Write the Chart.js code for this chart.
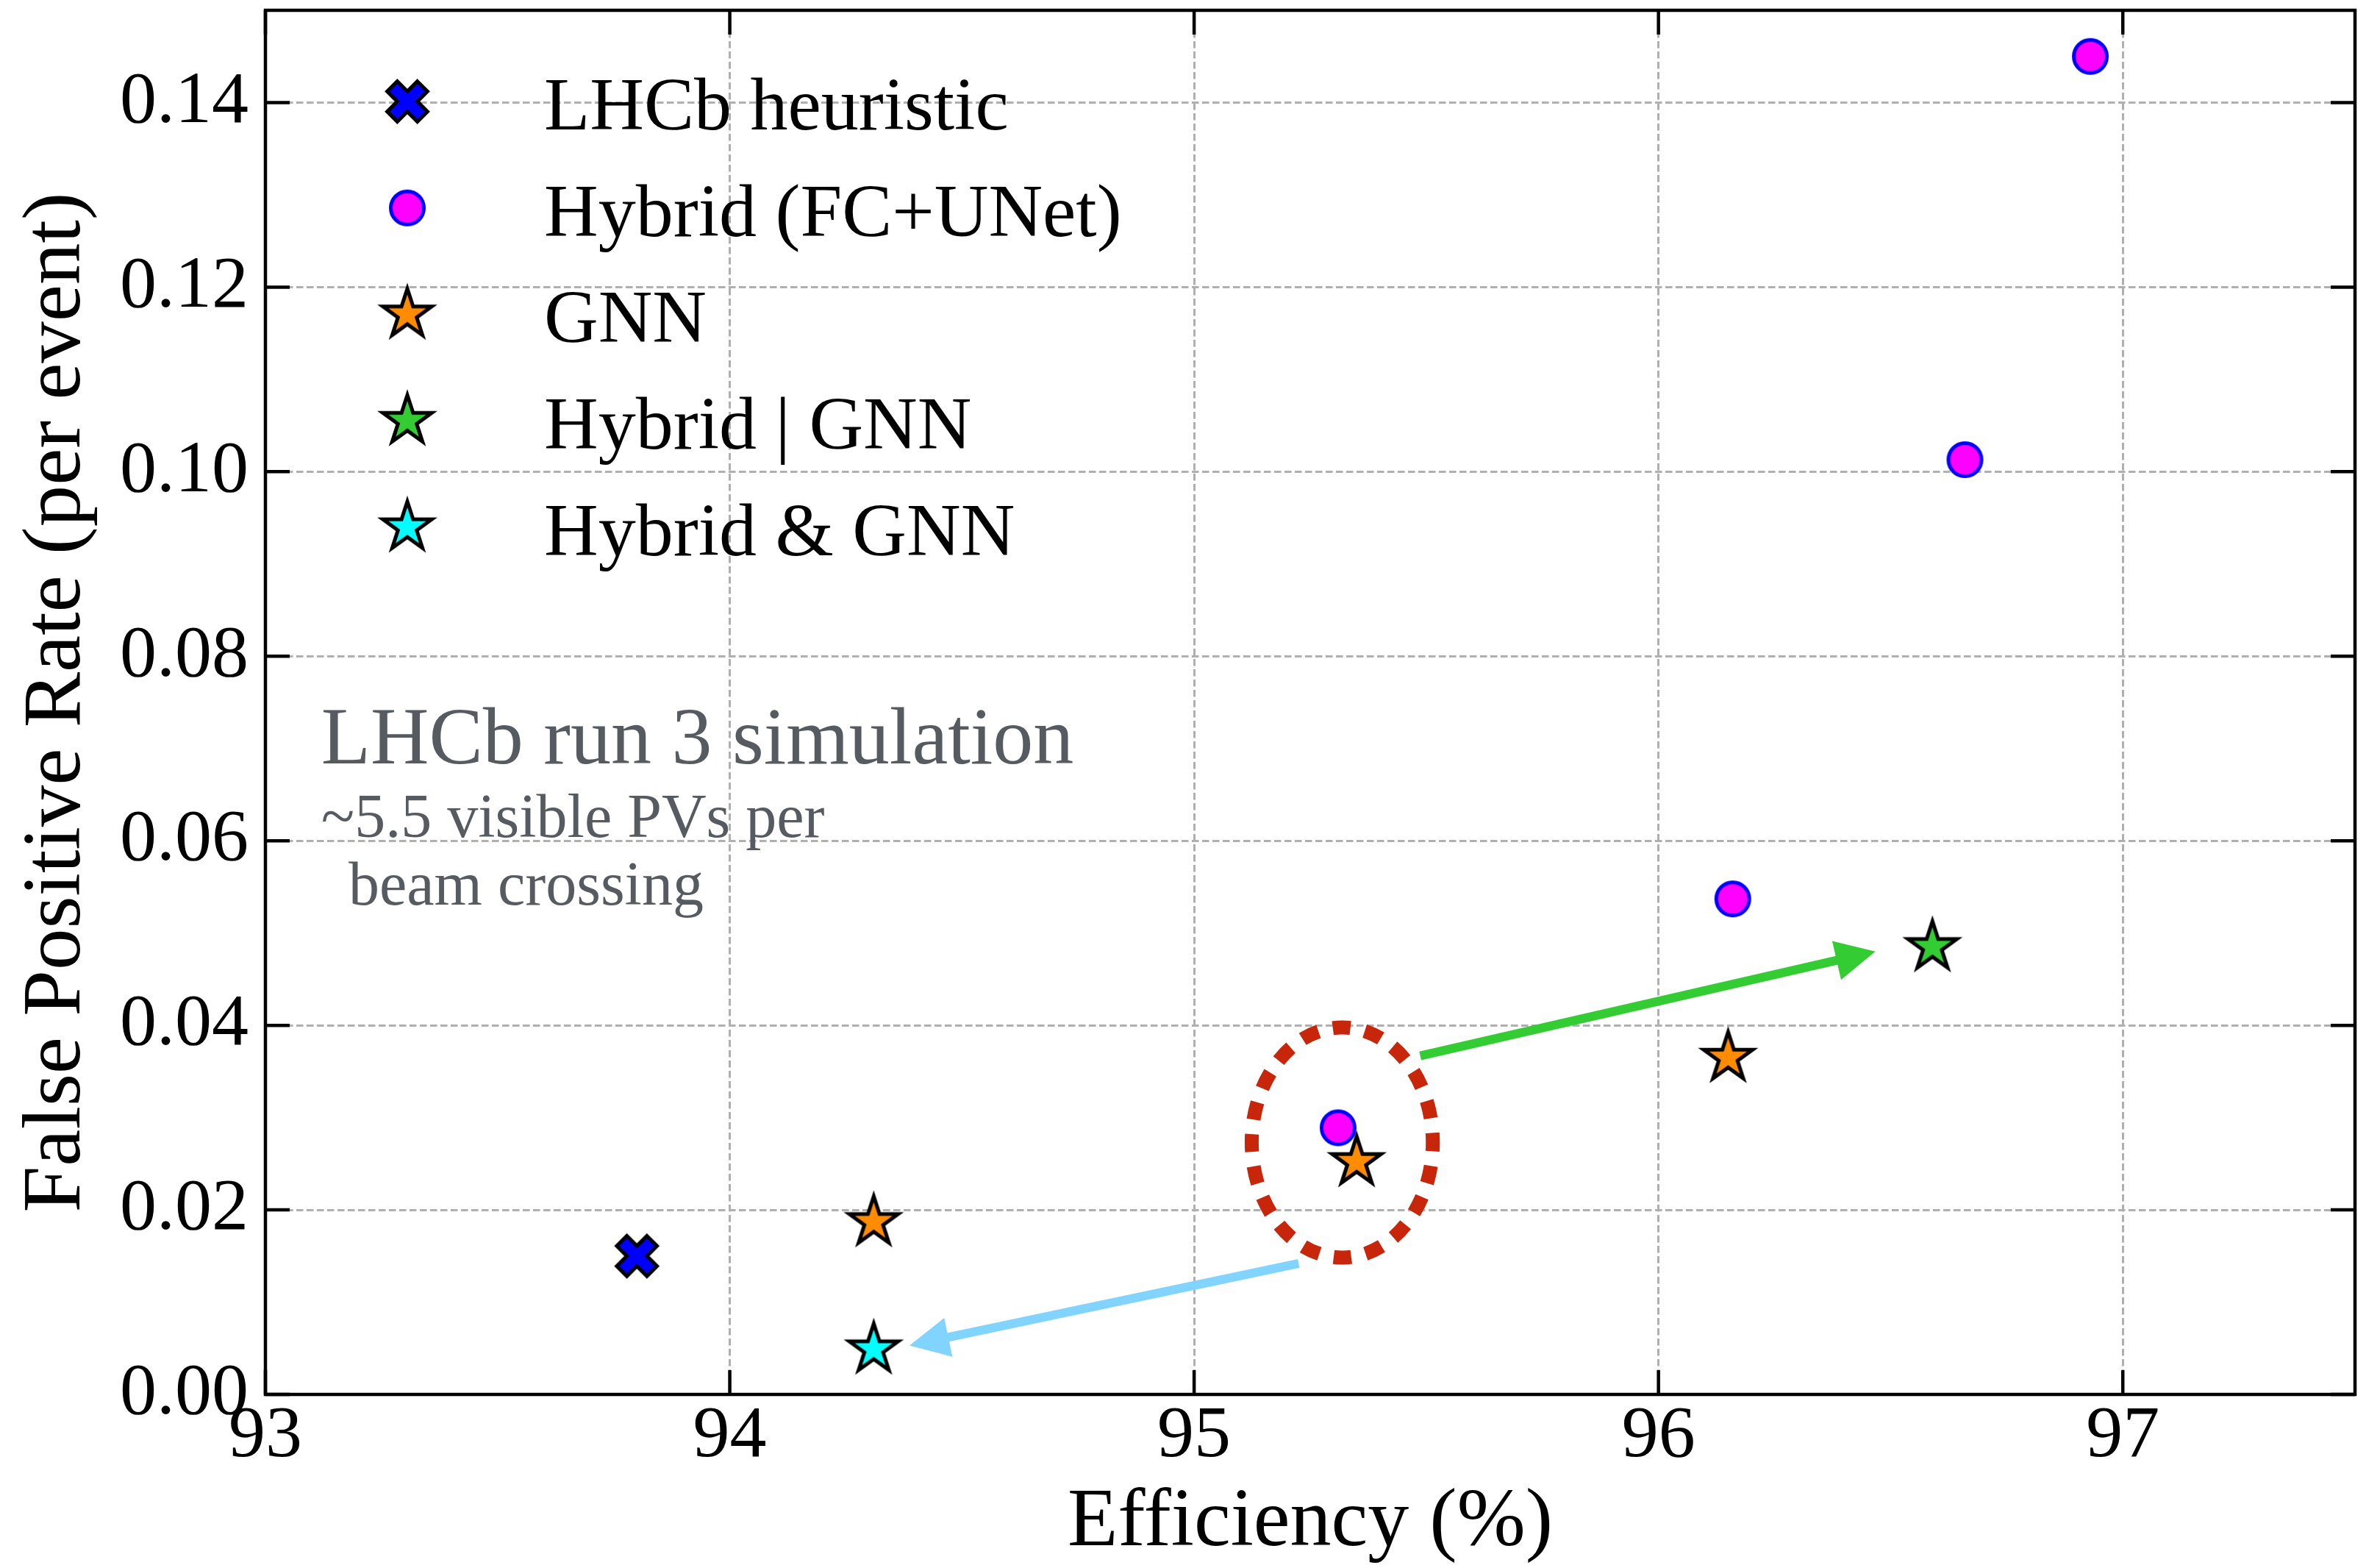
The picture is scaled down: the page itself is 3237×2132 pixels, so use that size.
<!DOCTYPE html>
<html>
<head>
<meta charset="utf-8">
<script src="https://cdn.jsdelivr.net/npm/chart.js@4.4.1/dist/chart.umd.min.js"></script>
<style>
  html, body { margin: 0; padding: 0; background: #fff; }
  #chart { display: block; }
</style>
</head>
<body>
<canvas id="chart" width="3237" height="2132"></canvas>
<script>
// values
const xTicks = [93, 94, 95, 96, 97];
const yTicks = [0, 0.02, 0.04, 0.06, 0.08, 0.10, 0.12, 0.14];

const seriesNames = ['LHCb heuristic', 'Hybrid (FC+UNet)', 'GNN', 'Hybrid | GNN', 'Hybrid & GNN'];

const heuristicX = [93.80];
const heuristicY = [0.0150];
const hybridX = [95.31, 96.16, 96.66, 96.93];
const hybridY = [0.0289, 0.0537, 0.1013, 0.1450];
const gnnX = [94.31, 95.35, 96.15];
const gnnY = [0.0187, 0.0252, 0.0365];
const orX = [96.59];
const orY = [0.0485];
const andX = [94.31];
const andY = [0.0049];

// annotations, in data units
const ringCenter = [95.319, 0.0273];
const ringRadius = [0.195, 0.01247];
const arrowOrFrom = [95.487, 0.0367];
const arrowOrTo = [96.467, 0.0480];
const arrowAndFrom = [95.225, 0.0142];
const arrowAndTo = [94.387, 0.0053];
const noteLines = ['LHCb run 3 simulation', '~5.5 visible PVs per', 'beam crossing'];
const noteX = [93.120, 93.120, 93.179];
const noteY = [0.0684, 0.0604, 0.0531];

const SERIF = '"Liberation Serif", "Times New Roman", serif';

// marker images (matplotlib-like star, filled X and circle)
function markerCanvas(size) {
    const c = document.createElement('canvas');
    c.width = c.height = size;
    const g = c.getContext('2d');
    g.translate(size / 2, size / 2);
    return [c, g];
}

function makeStar(fill) {
    const [c, g] = markerCanvas(110);
    const R = 35, r = R * 0.381966;
    g.beginPath();
    for (let i = 0; i < 10; i++) {
        const a = -Math.PI / 2 + i * Math.PI / 5;
        const rad = i % 2 ? r : R;
        g.lineTo(rad * Math.cos(a), rad * Math.sin(a));
    }
    g.closePath();
    g.fillStyle = fill;
    g.fill();
    g.lineJoin = 'miter';
    g.miterLimit = 10;
    g.lineWidth = 5;
    g.strokeStyle = '#000';
    g.stroke();
    return c;
}

function makeCircle(fill, edge) {
    const [c, g] = markerCanvas(70);
    g.beginPath();
    g.arc(0, 0, 22.5, 0, Math.PI * 2);
    g.fillStyle = fill;
    g.fill();
    g.lineWidth = 5;
    g.strokeStyle = edge;
    g.stroke();
    return c;
}

function makeX(fill) {
    const [c, g] = markerCanvas(90);
    const s = 58 / 6;
    const pts = [[-1, -3], [1, -3], [1, -1], [3, -1], [3, 1], [1, 1], [1, 3], [-1, 3], [-1, 1], [-3, 1], [-3, -1], [-1, -1]];
    g.rotate(Math.PI / 4);
    g.beginPath();
    pts.forEach(p => g.lineTo(p[0] * s, p[1] * s));
    g.closePath();
    g.fillStyle = fill;
    g.fill();
    g.lineJoin = 'miter';
    g.lineWidth = 5;
    g.strokeStyle = '#000';
    g.stroke();
    return c;
}

const markers = [
    makeX('#0000ff'),
    makeCircle('#ff00ff', '#0000ff'),
    makeStar('#ff8c00'),
    makeStar('#33cc33'),
    makeStar('#00ffff')
];

function pts(xs, ys) {
    return xs.map((x, i) => ({ x: x, y: ys[i] }));
}

function drawArrow(ctx, x0, y0, x1, y1, color) {
    const ang = Math.atan2(y1 - y0, x1 - x0);
    const L = 54, W = 27;
    const bx = x1 - L * Math.cos(ang), by = y1 - L * Math.sin(ang);
    ctx.strokeStyle = color;
    ctx.lineWidth = 12;
    ctx.lineCap = 'butt';
    ctx.beginPath();
    ctx.moveTo(x0, y0);
    ctx.lineTo(bx + 3 * Math.cos(ang), by + 3 * Math.sin(ang));
    ctx.stroke();
    ctx.fillStyle = color;
    ctx.beginPath();
    ctx.moveTo(x1, y1);
    ctx.lineTo(bx - W * Math.sin(ang), by + W * Math.cos(ang));
    ctx.lineTo(bx + W * Math.sin(ang), by - W * Math.cos(ang));
    ctx.closePath();
    ctx.fill();
}

// ring, arrows and the simulation note, under the markers
const notesPlugin = {
    id: 'notes',
    beforeDatasetsDraw(chart) {
        const { ctx, scales: { x, y } } = chart;
        ctx.save();
        const cx = x.getPixelForValue(ringCenter[0]);
        const cy = y.getPixelForValue(ringCenter[1]);
        const rx = x.getPixelForValue(ringCenter[0] + ringRadius[0]) - cx;
        const ry = cy - y.getPixelForValue(ringCenter[1] + ringRadius[1]);
        ctx.beginPath();
        ctx.ellipse(cx, cy, rx, ry, 0, 0, Math.PI * 2);
        ctx.strokeStyle = '#c8260a';
        ctx.lineWidth = 19;
        ctx.setLineDash([24, 20]);
        ctx.lineDashOffset = 12;
        ctx.stroke();
        ctx.setLineDash([]);

        drawArrow(ctx, x.getPixelForValue(arrowOrFrom[0]), y.getPixelForValue(arrowOrFrom[1]),
            x.getPixelForValue(arrowOrTo[0]), y.getPixelForValue(arrowOrTo[1]), '#33cc33');
        drawArrow(ctx, x.getPixelForValue(arrowAndFrom[0]), y.getPixelForValue(arrowAndFrom[1]),
            x.getPixelForValue(arrowAndTo[0]), y.getPixelForValue(arrowAndTo[1]), '#80d4ff');

        ctx.fillStyle = '#565b61';
        ctx.textAlign = 'left';
        ctx.textBaseline = 'alphabetic';
        noteLines.forEach((t, i) => {
            ctx.font = (i === 0 ? 110 : 84) + 'px ' + SERIF;
            ctx.fillText(t, x.getPixelForValue(noteX[i]), y.getPixelForValue(noteY[i]));
        });
        ctx.restore();
    }
};

// box with inward ticks on all four sides, then the legend
const framePlugin = {
    id: 'frame',
    afterDatasetsDraw(chart) {
        const { ctx, chartArea: a, scales: { x, y } } = chart;
        ctx.save();
        ctx.strokeStyle = '#000';
        ctx.lineWidth = 4.5;
        ctx.lineCap = 'butt';
        const tick = 33;
        ctx.beginPath();
        xTicks.forEach(v => {
            const px = x.getPixelForValue(v);
            ctx.moveTo(px, a.bottom); ctx.lineTo(px, a.bottom - tick);
            ctx.moveTo(px, a.top); ctx.lineTo(px, a.top + tick);
        });
        yTicks.forEach(v => {
            const py = y.getPixelForValue(v);
            ctx.moveTo(a.left, py); ctx.lineTo(a.left + tick, py);
            ctx.moveTo(a.right, py); ctx.lineTo(a.right - tick, py);
        });
        ctx.stroke();
        ctx.strokeRect(a.left, a.top, a.right - a.left, a.bottom - a.top);

        // legend
        const markX = a.left + 193, textX = a.left + 379, rowY = a.top + 124, step = 144.7;
        ctx.font = '102px ' + SERIF;
        ctx.fillStyle = '#000';
        ctx.textAlign = 'left';
        ctx.textBaseline = 'alphabetic';
        seriesNames.forEach((name, i) => {
            const cy = rowY + i * step;
            const m = markers[i];
            ctx.drawImage(m, markX - m.width / 2, cy - m.height / 2);
            ctx.fillText(name, textX, cy + 38);
        });
        ctx.restore();
    }
};

// keep the plot box where the figure has it: no extra room for overhanging labels
function noOverhang(s) {
    s.paddingTop = 0;
    s.paddingBottom = 0;
    s.paddingLeft = 0;
    s.paddingRight = 0;
}

const tickFont = { family: SERIF, size: 100, lineHeight: 1 };

new Chart(document.getElementById('chart'), {
    type: 'scatter',
    data: {
        datasets: [
            { label: seriesNames[0], data: pts(heuristicX, heuristicY), pointStyle: markers[0], order: 5 },
            { label: seriesNames[1], data: pts(hybridX, hybridY), pointStyle: markers[1], order: 4 },
            { label: seriesNames[2], data: pts(gnnX, gnnY), pointStyle: markers[2], order: 3 },
            { label: seriesNames[3], data: pts(orX, orY), pointStyle: markers[3], order: 2 },
            { label: seriesNames[4], data: pts(andX, andY), pointStyle: markers[4], order: 1 }
        ]
    },
    options: {
        responsive: false,
        animation: false,
        devicePixelRatio: 1,
        layout: { autoPadding: false, padding: { top: 14, right: 34, left: 0, bottom: 0 } },
        elements: { point: { radius: 30 } },
        plugins: {
            legend: { display: false },
            tooltip: { enabled: false }
        },
        scales: {
            x: {
                type: 'linear',
                min: 93,
                max: 97.5,
                afterBuildTicks: s => { s.ticks = xTicks.map(v => ({ value: v })); },
                afterFit: s => { s.height = 236; noOverhang(s); },
                grid: { color: '#b0b0b0', lineWidth: 3, drawTicks: false },
                border: { display: false, dash: [9.5, 4.5] },
                ticks: {
                    color: '#000', padding: 8, font: tickFont, maxRotation: 0, autoSkip: false,
                    callback: v => String(v)
                },
                title: {
                    display: true, text: 'Efficiency (%)', color: '#000',
                    font: { family: SERIF, size: 112, lineHeight: 1 },
                    padding: { top: 0, bottom: 4 }
                }
            },
            y: {
                type: 'linear',
                min: 0,
                max: 0.15,
                afterBuildTicks: s => { s.ticks = yTicks.map(v => ({ value: v })); },
                afterFit: s => { s.width = 361; noOverhang(s); },
                grid: { color: '#b0b0b0', lineWidth: 3, drawTicks: false },
                border: { display: false, dash: [9.5, 4.5] },
                ticks: {
                    color: '#000', padding: 23, font: tickFont, autoSkip: false,
                    callback: v => v.toFixed(2)
                },
                title: {
                    display: true, text: 'False Positive Rate (per event)', color: '#000',
                    font: { family: SERIF, size: 113, lineHeight: 1 },
                    padding: { top: 22, bottom: 0 }
                }
            }
        }
    },
    plugins: [notesPlugin, framePlugin]
});
</script>
</body>
</html>
